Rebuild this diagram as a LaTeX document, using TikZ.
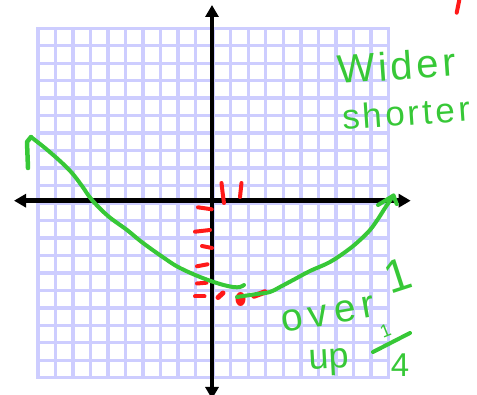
\documentclass[tikz,border=0pt]{standalone}
\usepackage{fontspec}
\setmainfont{Liberation Sans}
\newfontfamily\spacedhand[LetterSpace=16]{Liberation Sans}
\newfontfamily\lightspaced[LetterSpace=9]{Liberation Sans}
\usetikzlibrary{arrows.meta}
\definecolor{gridc}{RGB}{205,205,255}
\definecolor{pen}{RGB}{55,200,55}
\definecolor{redpen}{RGB}{255,25,25}
\begin{document}
\begin{tikzpicture}[x=1pt,y=-1pt,
  gridline/.style={draw=gridc,line width=3.4pt,line cap=rect},
  axisline/.style={draw=black,line width=4.5pt,{Triangle[length=12pt,width=13pt]}-{Triangle[length=12pt,width=13pt]}},
  greenstroke/.style={draw=pen,line width=4pt,line cap=round,line join=round},
  redstroke/.style={draw=redpen,line width=4pt,line cap=round},
  hand/.style={text=pen,inner sep=0pt}]
\useasboundingbox (0,0) rectangle (477,395);
\fill[white] (0,0) rectangle (477,395);
% grid
\foreach \i in {0,...,20}{
  \draw[gridline] ({38+\i*17.52},28.3) -- ({38+\i*17.52},377.7);
  \draw[gridline] (38,{28.3+\i*17.47}) -- (388.4,{28.3+\i*17.47});
}
% axes
\draw[axisline] (212,399) -- (212,5);
\draw[axisline] (14,200.7) -- (410.7,200.7);
% red marks
\draw[redstroke] (221.5,183) .. controls (222.5,192) .. (224,203);
\draw[redstroke] (241.5,183) -- (240,197);
\draw[redstroke] (198,207.3) -- (211.7,209.3);
\draw[redstroke] (195,231.7) -- (210,230);
\draw[redstroke] (202,246) -- (212,248);
\draw[redstroke] (197,266.3) -- (207.5,264.3);
\draw[redstroke] (197,283.5) -- (206.5,282.7);
\draw[redstroke] (195,296.5) -- (204.5,296.5);
\draw[redstroke,line width=5pt] (218,297.5) -- (223,293);
\fill[redpen] (240.5,299) ellipse [x radius=5pt,y radius=7pt];
\draw[redstroke,line width=5.5pt] (254,296) -- (265,292);
\draw[redstroke] (459.3,0) -- (456.7,12.7);
% green parabola
\draw[greenstroke,line width=4.5pt] (28,168) -- (27,142) -- (31,137);
\draw[greenstroke] plot[smooth,tension=0.6] coordinates {(31,137) (45,148) (60,161) (72,173) (82,186) (92,200) (108,216) (127,230) (143,243) (167,260) (180,268) (200,277) (220,284) (233,287) (240,287) (244,285)};
\draw[greenstroke] plot[smooth,tension=0.6] coordinates {(237,297) (257,294) (270,292) (280,287) (295,279) (310,271) (330,262) (348,250) (360,240) (370,230) (378,219) (385,208) (393.5,195.5)};
\draw[greenstroke] (378,205) -- (393.5,195.5) -- (396.7,204);
% handwritten notes
\node[hand,rotate=4,anchor=base west,font=\lightspaced\fontsize{40}{40}\selectfont] (wider) at (338,84) {Wider};
\node[hand,rotate=4,anchor=base west,font=\lightspaced\fontsize{35}{35}\selectfont] (shorter) at (343,130) {shorter};
\node[hand,rotate=10,anchor=base west,font=\spacedhand\fontsize{39}{39}\selectfont] (over) at (283,333) {over};
\node[hand,rotate=18,font=\fontsize{46}{46}\selectfont] (one) at (397.5,275) {1};
\node[hand,rotate=3,anchor=base west,font=\fontsize{36}{36}\selectfont] (up) at (309,370) {up};
\node[hand,rotate=22,font=\fontsize{18}{18}\selectfont] (num) at (385.5,331) {1};
\node[hand,font=\fontsize{33}{33}\selectfont] (den) at (400,365) {4};
\draw[greenstroke] (373,352) -- (410,333);
\end{tikzpicture}
\end{document}
